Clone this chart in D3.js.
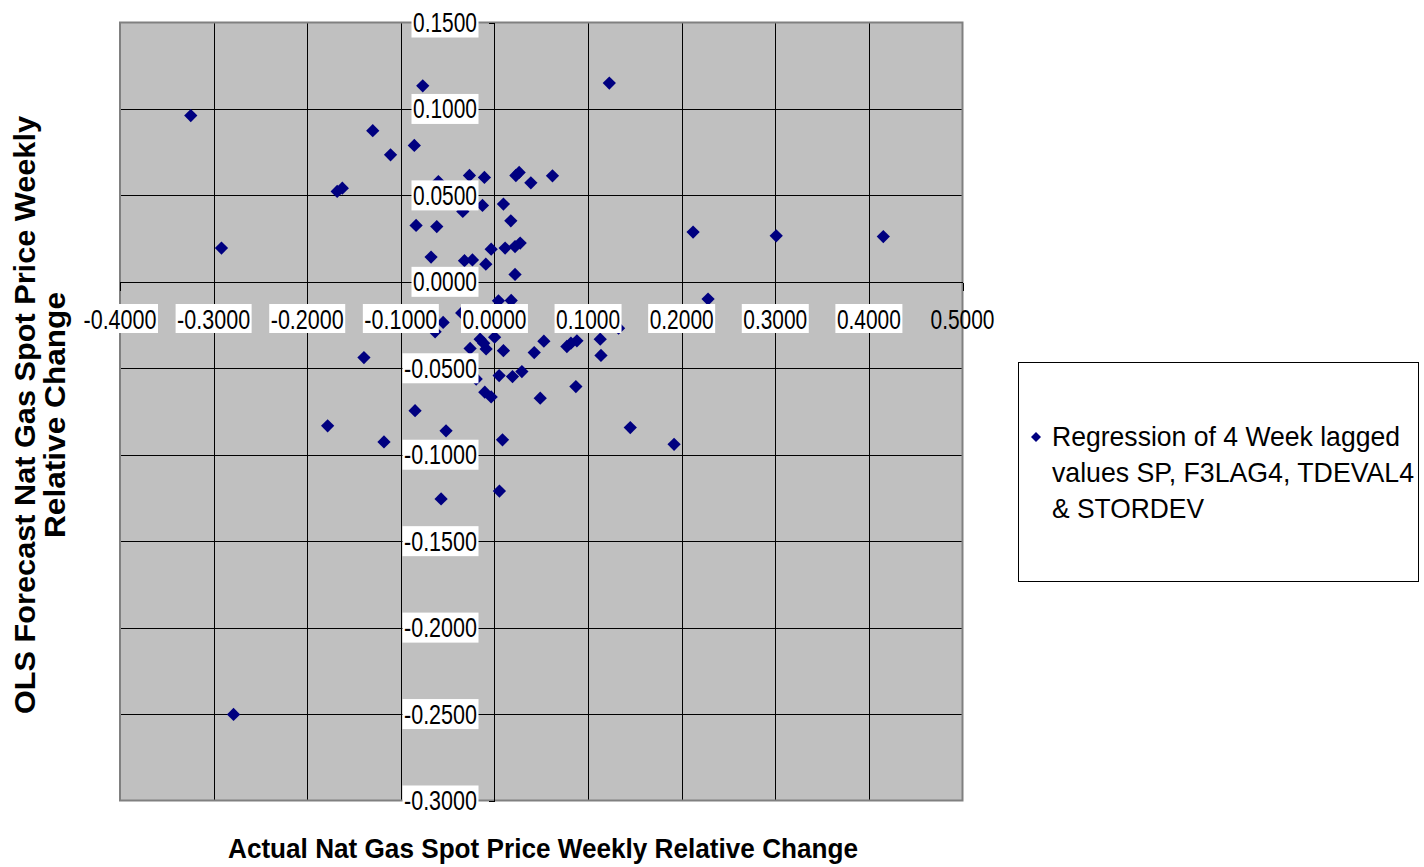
<!DOCTYPE html>
<html>
<head>
<meta charset="utf-8">
<script src="https://cdn.jsdelivr.net/npm/d3@7/dist/d3.min.js"></script>
<style>
  html, body { margin: 0; padding: 0; background: #fff; }
  svg { display: block; }
  text { font-family: "Liberation Sans", Arial, sans-serif; }
</style>
</head>
<body>
<svg id="chart" width="1424" height="867"></svg>
<script>
// ---- Data ----
const actualChange = [
  -0.3244, -0.2916, -0.0766, -0.1300, -0.1110, -0.0856, -0.1680, -0.1625, -0.0837, -0.0616,
  -0.0677, -0.0599, -0.0267, -0.0107, -0.0338, -0.0128, 0.0096, 0.0175, -0.0035, 0.0114,
  0.0220, 0.0275, 0.0229, 0.0264, 0.0389, 0.0620, -0.0320, -0.0235, -0.0092, 0.0220,
  0.0043, 0.0179, -0.0548, -0.0634, -0.0350, -0.0153, -0.0115, -0.0089, 0.0002, -0.0260,
  0.0096, 0.0425, 0.0528, 0.0774, 0.0817, 0.0881, 0.1130, 0.1138, 0.1326, -0.0195,
  0.0050, 0.0193, 0.0293, 0.0870, 0.0489, -0.0103, -0.0035, -0.0848, -0.0517, -0.1180,
  0.0086, 0.1451, 0.0053, -0.0570, 0.1227, 0.2122, 0.3010, 0.4154, 0.2282, 0.1919,
  -0.1394, -0.1782, -0.2787
];
const forecastChange = [
  0.0962, 0.0195, 0.1134, 0.0874, 0.0735, 0.0789, 0.0523, 0.0542, 0.0326, 0.0320,
  0.0143, 0.0580, 0.0615, 0.0604, 0.0407, 0.0442, 0.0450, 0.0353, 0.0189, 0.0195,
  0.0204, 0.0224, 0.0615, 0.0633, 0.0573, 0.0613, 0.0122, 0.0127, 0.0102, 0.0043,
  -0.0110, -0.0108, -0.0235, -0.0289, -0.0180, -0.0332, -0.0355, -0.0388, -0.0320, -0.0385,
  -0.0398, -0.0409, -0.0343, -0.0374, -0.0355, -0.0341, -0.0332, -0.0426, -0.0268, -0.0562,
  -0.0542, -0.0548, -0.0519, -0.0606, -0.0673, -0.0638, -0.0666, -0.0745, -0.0862, -0.0926,
  -0.0914, -0.0843, -0.1210, -0.1256, 0.1150, 0.0288, 0.0266, 0.0262, -0.0100, -0.0940,
  -0.0438, -0.0833, -0.2502
];
const xTicks = [-0.4, -0.3, -0.2, -0.1, 0.0, 0.1, 0.2, 0.3, 0.4, 0.5];
const yTicks = [0.15, 0.10, 0.05, 0.00, -0.05, -0.10, -0.15, -0.20, -0.25, -0.30];
const seriesName = ["Regression of 4 Week lagged", "values SP, F3LAG4, TDEVAL4", "& STORDEV"];
const xTitle = "Actual Nat Gas Spot Price Weekly Relative Change";
const yTitle = ["OLS Forecast Nat Gas Spot Price Weekly", "Relative Change"];

const points = actualChange.map((v, i) => ({ x: v, y: forecastChange[i] }));

// ---- Layout ----
const svg = d3.select("#chart");
const plot = { left: 120, right: 962.5, top: 22.5, bottom: 800.5 };
const x = d3.scaleLinear().domain([-0.4, 0.5]).range([plot.left, plot.right]);
const y = d3.scaleLinear().domain([-0.3, 0.15]).range([plot.bottom, plot.top]);
const fmt = v => d3.format(".4f")(v).replace("\u2212", "-");
const navy = "#000080";

// plot background
svg.append("rect")
  .attr("x", plot.left).attr("y", plot.top)
  .attr("width", plot.right - plot.left).attr("height", plot.bottom - plot.top)
  .attr("fill", "#c0c0c0");

// gridlines
const grid = svg.append("g").attr("stroke", "#000").attr("stroke-width", 1).attr("shape-rendering", "crispEdges");
grid.selectAll("line.v").data(xTicks.slice(1, -1)).join("line")
  .attr("x1", d => Math.round(x(d)) + 0.5).attr("x2", d => Math.round(x(d)) + 0.5)
  .attr("y1", plot.top).attr("y2", plot.bottom);
grid.selectAll("line.h").data(yTicks.slice(1, -1)).join("line")
  .attr("y1", d => Math.round(y(d)) + 0.5).attr("y2", d => Math.round(y(d)) + 0.5)
  .attr("x1", plot.left).attr("x2", plot.right);

// plot border
svg.append("rect")
  .attr("x", plot.left).attr("y", plot.top)
  .attr("width", plot.right - plot.left).attr("height", plot.bottom - plot.top)
  .attr("fill", "none").attr("stroke", "#808080").attr("stroke-width", 2);

// axes through zero
const x0 = Math.round(x(0)) + 0.5, y0 = Math.round(y(0)) + 0.5;
const axisG = svg.append("g").attr("stroke", "#000").attr("stroke-width", 1).attr("shape-rendering", "crispEdges");
axisG.append("line").attr("x1", plot.left).attr("x2", plot.right).attr("y1", y0).attr("y2", y0);
axisG.append("line").attr("x1", x0).attr("x2", x0).attr("y1", plot.top).attr("y2", plot.bottom);
axisG.selectAll("line.xt").data(xTicks).join("line")
  .attr("x1", d => Math.round(x(d)) + 0.5).attr("x2", d => Math.round(x(d)) + 0.5)
  .attr("y1", y0).attr("y2", y0 + 8);
axisG.selectAll("line.yt").data(yTicks).join("line")
  .attr("y1", d => Math.round(y(d)) + 0.5).attr("y2", d => Math.round(y(d)) + 0.5)
  .attr("x1", x0 - 6).attr("x2", x0);

// points
const diamond = d3.symbol().type(d3.symbolSquare).size(88);
svg.append("g").selectAll("path").data(points).join("path")
  .attr("d", diamond)
  .attr("transform", d => `translate(${x(d.x)},${y(d.y)}) rotate(45)`)
  .attr("fill", navy);

// tick labels (with white opaque background)
const tickFont = 27;
function labelWidth(d) { return d < 0 ? 73 : 64; }

const xl = svg.append("g");
xTicks.forEach((d, i) => {
  const cx = x(d), w = labelWidth(d);
  if (i < xTicks.length - 1) {
    xl.append("rect").attr("x", cx - w / 2 - 1.5).attr("y", 304).attr("width", w + 3).attr("height", 29).attr("fill", "#fff");
  }
  xl.append("text").attr("x", cx).attr("y", 328.5).attr("text-anchor", "middle")
    .attr("font-size", tickFont).attr("textLength", w).attr("lengthAdjust", "spacingAndGlyphs")
    .attr("fill", "#000").text(fmt(d));
});

const yl = svg.append("g");
yTicks.forEach(d => {
  const cy = y(d), w = labelWidth(d), right = 478.5;
  yl.append("rect").attr("x", right - w - 3).attr("y", cy - 15).attr("width", w + 3).attr("height", 30).attr("fill", "#fff");
  yl.append("text").attr("x", right - 1.5).attr("y", cy + 9.5).attr("text-anchor", "end")
    .attr("font-size", tickFont).attr("textLength", w).attr("lengthAdjust", "spacingAndGlyphs")
    .attr("fill", "#000").text(fmt(d));
});

// axis titles
svg.append("text").attr("x", 543).attr("y", 858).attr("text-anchor", "middle")
  .attr("font-size", 27).attr("font-weight", "bold").attr("textLength", 630).attr("lengthAdjust", "spacingAndGlyphs")
  .text(xTitle);

const yt = svg.append("g").attr("transform", "translate(0,415) rotate(-90)");
yt.append("text").attr("x", 0).attr("y", 35).attr("text-anchor", "middle")
  .attr("font-size", 30).attr("font-weight", "bold").attr("textLength", 598).attr("lengthAdjust", "spacingAndGlyphs")
  .text(yTitle[0]);
yt.append("text").attr("x", 0).attr("y", 65).attr("text-anchor", "middle")
  .attr("font-size", 30).attr("font-weight", "bold").attr("textLength", 246).attr("lengthAdjust", "spacingAndGlyphs")
  .text(yTitle[1]);

// legend
const lg = svg.append("g");
lg.append("rect").attr("x", 1018.5).attr("y", 362.5).attr("width", 400).attr("height", 219)
  .attr("fill", "#fff").attr("stroke", "#000").attr("stroke-width", 1);
lg.append("path").attr("d", d3.symbol().type(d3.symbolSquare).size(50))
  .attr("transform", "translate(1036,437) rotate(45)").attr("fill", navy);
const legendLens = [348, 362, 152];
seriesName.forEach((s, i) => {
  lg.append("text").attr("x", 1052).attr("y", 446 + i * 36)
    .attr("font-size", 27.5).attr("textLength", legendLens[i]).attr("lengthAdjust", "spacingAndGlyphs")
    .attr("fill", "#000").text(s);
});
</script>
</body>
</html>
